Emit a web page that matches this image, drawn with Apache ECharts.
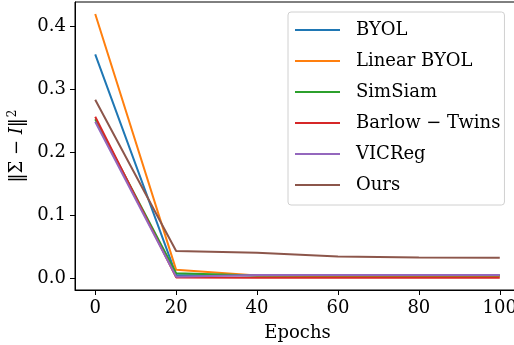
<!DOCTYPE html>
<html>
<head>
<meta charset="utf-8">
<script src="https://cdn.jsdelivr.net/npm/echarts@6/dist/echarts.min.js"></script>
<style>html,body{margin:0;padding:0;background:#fff}#c{width:514px;height:345px}</style>
</head>
<body>
<div id="c"></div>
<script>
const epochs = [0, 20, 40, 60, 80, 100];
const byol = [0.355, 0.005, 0.004, 0.004, 0.004, 0.004];
const linearByol = [0.419, 0.013, 0.004, 0.003, 0.003, 0.003];
const simsiam = [0.252, 0.0075, 0.004, 0.004, 0.004, 0.004];
const barlowTwins = [0.256, 0.001, 0.0005, 0.0005, 0.0005, 0.0005];
const vicreg = [0.248, 0.002, 0.005, 0.005, 0.005, 0.005];
const ours = [0.283, 0.043, 0.040, 0.034, 0.0325, 0.032];
const xTicks = [0, 20, 40, 60, 80, 100];
const yTicks = [0.0, 0.1, 0.2, 0.3, 0.4];

const names = ['BYOL', 'Linear BYOL', 'SimSiam', 'Barlow \u2212 Twins', 'VICReg', 'Ours'];
const values = [byol, linearByol, simsiam, barlowTwins, vicreg, ours];
const colors = ['#1f77b4', '#ff7f0e', '#2ca02c', '#d62728', '#9467bd', '#8c564b'];
const font = 'DejaVu Serif';
const fs = 18;

const chart = echarts.init(document.getElementById('c'), null, {renderer: 'canvas'});
chart.setOption({
  animation: false,
  color: colors,
  grid: {left: 75, top: 2, width: 445, height: 288, outerBoundsMode: 'none', containLabel: false,
    show: true, borderColor: '#000', borderWidth: 1, backgroundColor: 'transparent'},
  legend: {
    orient: 'vertical', left: 288, top: 12,
    icon: 'rect', itemWidth: 45, itemHeight: 2, itemGap: 11,
    backgroundColor: '#fff', borderColor: '#d0d0d0', borderWidth: 1, borderRadius: 3,
    padding: [8, 4, 10, 7],
    textStyle: {fontFamily: font, fontSize: fs, color: '#000', lineHeight: 20, padding: [0, 0, 0, 11]},
    data: names
  },
  xAxis: {
    type: 'value', min: -5, max: 105,
    name: 'Epochs', nameLocation: 'middle', nameGap: 34,
    nameTextStyle: {fontFamily: font, fontSize: fs, color: '#000'},
    axisLine: {show: true, onZero: false, lineStyle: {color: '#000', width: 1}},
    axisTick: {show: true, length: 5, customValues: xTicks, lineStyle: {color: '#000'}},
    axisLabel: {customValues: xTicks, fontFamily: font, fontSize: fs, color: '#000', margin: 9},
    splitLine: {show: false}
  },
  yAxis: {
    type: 'value', min: -0.019, max: 0.438,
    name: '{n|\u2016\u03A3 \u2212 }{i|I}{n|\u2016}{s|2}', nameLocation: 'middle', nameGap: 43,
    nameTextStyle: {fontFamily: font, fontSize: fs, color: '#000',
      rich: {
        n: {fontFamily: font, fontSize: fs, color: '#000'},
        i: {fontFamily: font, fontSize: fs, fontStyle: 'italic', color: '#000'},
        s: {fontFamily: font, fontSize: 12, color: '#000', padding: [0, 0, 10, 1]}
      }},
    axisLine: {show: true, onZero: false, lineStyle: {color: '#000', width: 1}},
    axisTick: {show: true, length: 5, customValues: yTicks, lineStyle: {color: '#000'}},
    axisLabel: {customValues: yTicks, fontFamily: font, fontSize: fs, color: '#000', margin: 9,
      formatter: v => v.toFixed(1)},
    splitLine: {show: false}
  },
  series: names.map((n, i) => ({
    name: n, type: 'line', showSymbol: false, symbol: 'none',
    lineStyle: {width: 2, color: colors[i]},
    data: epochs.map((e, j) => [e, values[i][j]])
  }))
});
</script>
</body>
</html>
